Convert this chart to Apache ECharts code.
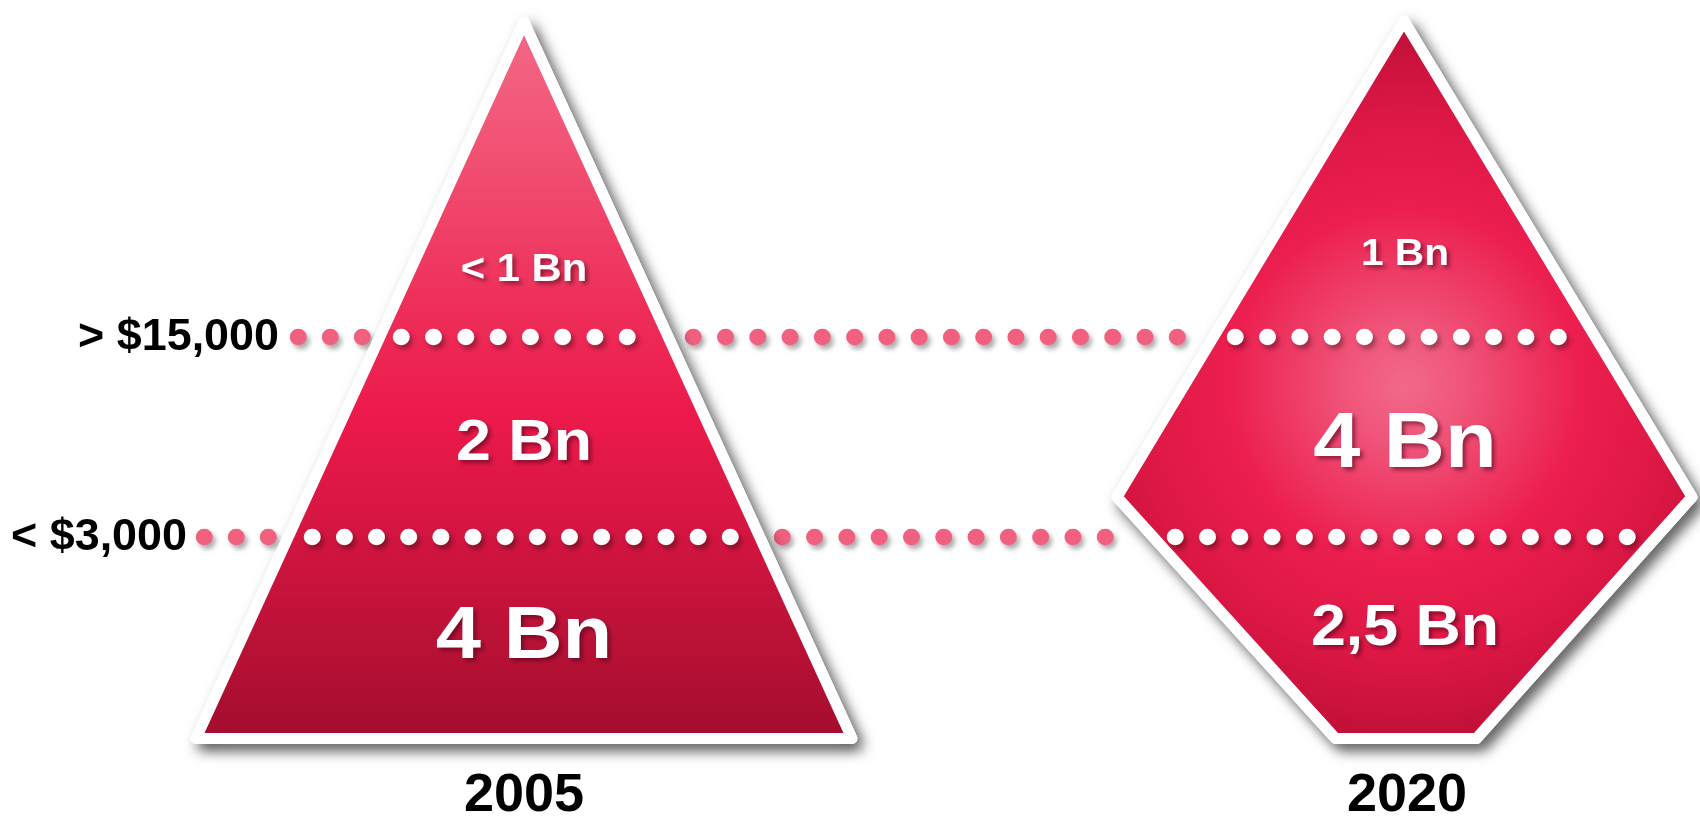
<!DOCTYPE html>
<html>
<head>
<meta charset="utf-8">
<title>World population by income band, 2005 and 2020</title>
<script src="https://cdn.jsdelivr.net/npm/echarts@6/dist/echarts.min.js"></script>
<style>
  html, body { margin: 0; padding: 0; background: #ffffff; }
  #chart { width: 1700px; height: 820px; }
</style>
</head>
<body>
<div id="chart"></div>
<script>
// ---- data -------------------------------------------------------------
const years = ['2005', '2020'];
const bands2005 = ['< 1 Bn', '2 Bn', '4 Bn'];
const bands2020 = ['1 Bn', '4 Bn', '2,5 Bn'];
const thresholds = ['> $15,000', '< $3,000'];

// outlines of the two population shapes, in chart units
const outline2005 = [[524, 22], [852, 738.5], [196, 738.5]];
const outline2020 = [[1404, 21], [1692, 497], [1476.5, 738.5], [1335.5, 738.5], [1117, 497]];

// income thresholds on the vertical scale
const thresholdLevels = [337, 537];

// dotted rules along each threshold: [fromX, toX, number of dots]
const outsideDotsHigh = [[298, 362, 3], [693, 1177, 16]];
const insideDotsHigh = [[401, 627, 8], [1235, 1558, 11]];
const outsideDotsLow = [[204, 268, 3], [782, 1105, 11]];
const insideDotsLow = [[312, 730, 14], [1175, 1627, 15]];

// ---- layout ------------------------------------------------------------
const FONT = "'Liberation Sans', Arial, Helvetica, sans-serif";
const layout = {
  yearX: [524, 1407],
  yearY: 796,
  yearSize: 54,
  thresholdRight: [279, 187],
  thresholdSize: 44,
  band2005: { x: 524, y: [271, 444, 638], size: [38, 57, 74] },
  band2020: { x: 1405, y: [255, 446, 629], size: [37, 77, 57] },
  textStretch: 1.1,
  dotSize: 16.5
};

const PINK = '#f2607f';

const chart = echarts.init(document.getElementById('chart'), null, { renderer: 'canvas' });

function dotSeries(segments, level, color, z) {
  return {
    type: 'custom',
    z: z,
    silent: true,
    clip: false,
    animation: false,
    data: segments.map((s, i) => i),
    renderItem(params, api) {
      const [x0, x1, n] = segments[params.dataIndex];
      const a = api.coord([x0, level]);
      const b = api.coord([x1, level]);
      const gap = (b[0] - a[0]) / (n - 1);
      return {
        type: 'line',
        shape: { x1: a[0], y1: a[1], x2: b[0] + 1, y2: b[1] },
        style: {
          stroke: color,
          lineWidth: layout.dotSize,
          lineCap: 'round',
          lineDash: [0.5, gap - 0.5],
          shadowColor: 'rgba(0,0,0,0.33)',
          shadowBlur: 5,
          shadowOffsetX: 3,
          shadowOffsetY: 4
        }
      };
    }
  };
}

function shapeFill(index, api) {
  if (index === 0) {
    return new echarts.graphic.LinearGradient(0, 0, 0, 1, [
      { offset: 0, color: '#f36a88' },
      { offset: 0.2, color: '#f14f72' },
      { offset: 0.4, color: '#ee2e59' },
      { offset: 0.55, color: '#ec1a4b' },
      { offset: 0.72, color: '#d21540' },
      { offset: 0.88, color: '#b61135' },
      { offset: 1, color: '#a20c2d' }
    ]);
  }
  const c = api.coord([1405, 385]);
  return new echarts.graphic.RadialGradient(c[0], c[1], 390, [
    { offset: 0, color: '#f16988' },
    { offset: 0.15, color: '#f0557a' },
    { offset: 0.45, color: '#ec1f4f' },
    { offset: 0.7, color: '#dc1744' },
    { offset: 0.88, color: '#c4113a' },
    { offset: 1, color: '#b00e34' }
  ], true);
}

const shapeSeries = {
  type: 'custom',
  z: 3,
  silent: true,
  clip: false,
  animation: false,
  data: years.map((y, i) => i),
  renderItem(params, api) {
    const outline = params.dataIndex === 0 ? outline2005 : outline2020;
    const pts = outline.map(p => api.coord(p));
    return {
      type: 'group',
      children: [
        {
          type: 'polygon',
          shape: { points: pts },
          style: {
            fill: '#ffffff', stroke: '#ffffff', lineWidth: 11, lineJoin: 'round',
            shadowColor: 'rgba(0,0,0,0.55)', shadowBlur: 14, shadowOffsetX: 6, shadowOffsetY: 7
          }
        },
        {
          type: 'polygon',
          shape: { points: pts },
          style: {
            fill: shapeFill(params.dataIndex, api),
            stroke: '#ffffff', lineWidth: 11, lineJoin: 'round'
          }
        }
      ]
    };
  }
};

function bandLabels(labels, spec) {
  return {
    type: 'custom',
    z: 6,
    silent: true,
    clip: false,
    animation: false,
    data: labels.map((l, i) => i),
    renderItem(params, api) {
      const i = params.dataIndex;
      const p = api.coord([spec.x, spec.y[i]]);
      return {
        type: 'text',
        x: p[0], y: p[1],
        scaleX: layout.textStretch,
        style: {
          text: labels[i],
          fill: '#ffffff',
          font: 'bold ' + spec.size[i] + 'px ' + FONT,
          align: 'center',
          verticalAlign: 'middle',
          textShadowColor: 'rgba(70,0,20,0.55)',
          textShadowBlur: 4,
          textShadowOffsetX: 3,
          textShadowOffsetY: 3
        }
      };
    }
  };
}

const thresholdSeries = {
  type: 'custom',
  z: 6,
  silent: true,
  clip: false,
  animation: false,
  data: thresholds.map((t, i) => i),
  renderItem(params, api) {
    const i = params.dataIndex;
    const p = api.coord([layout.thresholdRight[i], thresholdLevels[i]]);
    return {
      type: 'text',
      x: p[0], y: p[1] + 1,
      scaleX: 1.02,
      style: {
        text: thresholds[i],
        fill: '#000000',
        font: 'bold ' + layout.thresholdSize + 'px ' + FONT,
        align: 'right',
        verticalAlign: 'middle'
      }
    };
  }
};

const yearSeries = {
  type: 'custom',
  z: 6,
  silent: true,
  clip: false,
  animation: false,
  data: years.map((y, i) => i),
  renderItem(params, api) {
    const i = params.dataIndex;
    const p = api.coord([layout.yearX[i], layout.yearY]);
    return {
      type: 'text',
      x: p[0], y: p[1],
      style: {
        text: years[i],
        fill: '#000000',
        font: 'bold ' + layout.yearSize + 'px ' + FONT,
        align: 'center',
        verticalAlign: 'middle'
      }
    };
  }
};

chart.setOption({
  animation: false,
  grid: { left: 0, right: 0, top: 0, bottom: 0 },
  xAxis: { type: 'value', min: 0, max: 1700, show: false },
  yAxis: { type: 'value', min: 0, max: 820, inverse: true, show: false },
  series: [
    dotSeries(outsideDotsHigh, thresholdLevels[0], PINK, 1),
    dotSeries(outsideDotsLow, thresholdLevels[1], PINK, 1),
    shapeSeries,
    dotSeries(insideDotsHigh, thresholdLevels[0], '#ffffff', 5),
    dotSeries(insideDotsLow, thresholdLevels[1], '#ffffff', 5),
    bandLabels(bands2005, layout.band2005),
    bandLabels(bands2020, layout.band2020),
    thresholdSeries,
    yearSeries
  ]
});
</script>
</body>
</html>
